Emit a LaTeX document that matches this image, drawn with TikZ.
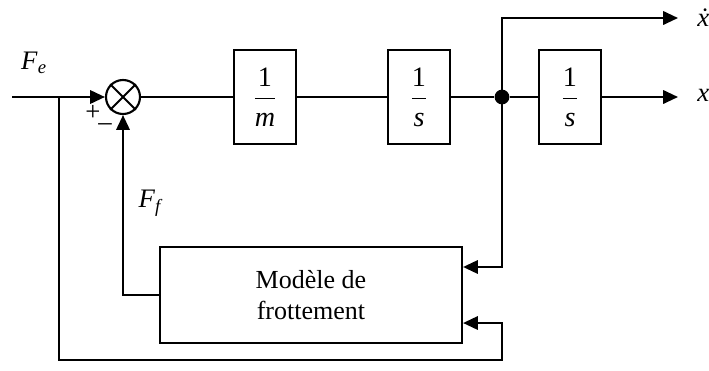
\documentclass[tikz,border=0pt]{standalone}
\usepackage{amsmath}
\usepackage{fontspec}
\setmainfont{Liberation Serif}
\usetikzlibrary{arrows.meta}

\tikzset{
  blk/.style = {draw, line width=1.5pt, minimum width=1.55cm, minimum height=2.33cm, inner sep=0pt},
  lnk/.style = {line width=1.5pt},
  arr/.style = {lnk, -{Triangle[length=10.5pt, width=9.5pt]}},
  lbl/.style = {font = {\fontsize{19}{22}\selectfont}, black, inner sep=0pt}
}
\newcommand{\frc}[1]{$\dfrac{\text{1}}{\textit{#1}}$}

\begin{document}
\begin{tikzpicture}[x=0.025cm, y=-0.025cm, font = {\fontsize{18.5}{22}\selectfont}]
        \useasboundingbox (0,0) rectangle (709,370);

        % forward path
        \node[draw, circle, line width=1.5pt, minimum size=0.85cm, inner sep=0pt] (sum) at (123,97) {};
        \draw[lnk] (sum.north west) -- (sum.south east);
        \draw[lnk] (sum.north east) -- (sum.south west);
        \node[blk, font = {\fontsize{20}{24}\selectfont}] (blkm) at (265,97) {\frc{m}};
        \node[blk, font = {\fontsize{20}{24}\selectfont}] (blks) at (419,97) {\frc{s}};
        \node[circle, fill, minimum size=0.37cm, inner sep=0pt] (jn) at (502,97) {};
        \node[blk, font = {\fontsize{20}{24}\selectfont}] (blkx) at (570,97) {\frc{s}};
        \node[blk, minimum width=7.55cm, minimum height=2.4cm, align=center] (frict) at (311,295) {Modèle de\\frottement};

        \coordinate (in) at (12,97);
        \coordinate (br) at (59,97);
        \coordinate (outv) at (678,18);
        \coordinate (outx) at (678,97);
        \coordinate (lp) at (502,360);

        \draw[arr] (in) -- (sum.west);
        \draw[lnk] (sum) -- (blkm) -- (blks) -- (jn) -- (blkx);
        \draw[arr] (blkx.east) -- (outx);
        \draw[arr] (jn.center) |- (outv);

        % friction loop
        \draw[arr] (jn.center) |- ([yshift=0.7cm]frict.east);
        \draw[arr] (br) |- (lp) |- ([yshift=-0.7cm]frict.east);
        \draw[arr] (frict.west) -| (sum.south);

        % labels
        \node[lbl] (lfe) at (34,63) {\textit{F}\textsubscript{\textit{e}}};
        \node[lbl] (lff) at (151,203) {\textit{F}\textsubscript{\textit{f}}};
        \node[lbl] (lp1) at (93,113) {+};
        \node[lbl] (lm1) at (105,127) {\textendash};
        \node[lbl, anchor=west] (lxd) at (697,18) {\textit{\.x}};
        \node[lbl, anchor=west] (lx) at (697,95) {\textit{x}};
\end{tikzpicture}
\end{document}
